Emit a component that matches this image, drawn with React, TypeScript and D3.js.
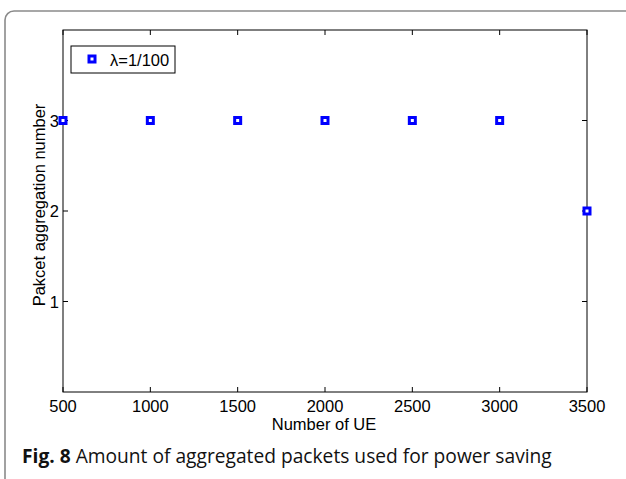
import React from "react";
import * as d3 from "d3";

const ueCounts = [500, 1000, 1500, 2000, 2500, 3000, 3500];
const aggNumbers = [3, 3, 3, 3, 3, 3, 2];
const xTicks = [500, 1000, 1500, 2000, 2500, 3000, 3500];
const yTicks = [1, 2, 3];
const seriesLabel = "λ=1/100";

export default function App() {
  const W = 626, H = 479;
  const left = 63, right = 587, top = 30, bottom = 392;
  const x = d3.scaleLinear().domain([500, 3500]).range([left, right]);
  const y = d3.scaleLinear().domain([0, 4]).range([bottom, top]);
  const tick = 5;
  const font = "Liberation Sans, Arial, sans-serif";
  const fs = 16.5;
  return (
    <svg width={W} height={H} style={{ position: "absolute", left: 0, top: 0, background: "#fff" }}>
      <rect x={5} y={11} width={660} height={520} rx={9} fill="none" stroke="#8a8a8a" strokeWidth={1.6} />
      <rect x={left} y={top} width={right - left} height={bottom - top} fill="none" stroke="#000" strokeWidth={1} />
      {xTicks.map((t) => (
        <g key={"x" + t}>
          <line x1={x(t)} x2={x(t)} y1={bottom} y2={bottom - tick} stroke="#000" />
          <line x1={x(t)} x2={x(t)} y1={top} y2={top + tick} stroke="#000" />
          <text x={x(t)} y={412} fontFamily={font} fontSize={fs} textAnchor="middle">{t}</text>
        </g>
      ))}
      {yTicks.map((t) => (
        <g key={"y" + t}>
          <line x1={left} x2={left + tick} y1={y(t)} y2={y(t)} stroke="#000" />
          <line x1={right} x2={right - tick} y1={y(t)} y2={y(t)} stroke="#000" />
          <text x={left - 4} y={y(t) + 6} fontFamily={font} fontSize={fs} textAnchor="end">{t}</text>
        </g>
      ))}
      <text x={324} y={430} fontFamily={font} fontSize={fs} textAnchor="middle">Number of UE</text>
      <text transform={`translate(45,205) rotate(-90)`} fontFamily={font} fontSize={fs} textAnchor="middle">Pakcet aggregation number</text>
      {ueCounts.map((u, i) => (
        <rect key={"p" + i} x={x(u) - 3} y={y(aggNumbers[i]) - 3} width={6} height={6} fill="#fff" stroke="#0000ff" strokeWidth={3} />
      ))}
      <rect x={71} y={46} width={104} height={27} fill="#fff" stroke="#000" strokeWidth={1} />
      <rect x={92 - 3} y={59 - 3} width={6} height={6} fill="#fff" stroke="#0000ff" strokeWidth={3} />
      <text x={110} y={66} fontFamily={font} fontSize={fs}>{seriesLabel}</text>
      <text x={22} y={463} fontFamily="Open Sans, Noto Sans, sans-serif" fontSize={19.2} fill="#111">
        <tspan fontWeight="bold">Fig. 8</tspan>
        <tspan> Amount of aggregated packets used for power saving</tspan>
      </text>
    </svg>
  );
}
